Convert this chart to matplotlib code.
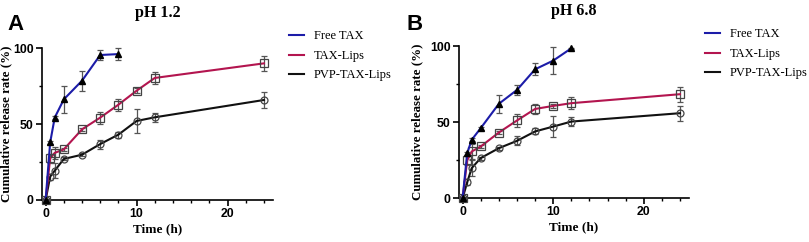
import matplotlib
matplotlib.use("Agg")
import matplotlib.pyplot as plt
from matplotlib.lines import Line2D
from matplotlib.ticker import MultipleLocator

# pH 1.2
t_free_a = [0, 0.5, 1, 2, 4, 6, 8]
free_a = [0, 37.9, 54.2, 66.2, 78.5, 95.4, 96.0]
free_a_err = [0, 1.0, 1.0, 8.8, 6.6, 3.0, 4.0]

t_lips = [0, 0.5, 1, 2, 4, 6, 8, 10, 12, 24]
lips_a = [0, 27.4, 31.0, 33.3, 46.5, 54.2, 62.7, 71.9, 80.3, 89.9]
lips_a_err = [0, 3.0, 4.0, 1.0, 1.0, 4.0, 4.0, 1.5, 4.0, 5.0]
pvp_a = [0, 15.4, 19.3, 27.0, 29.8, 36.8, 43.0, 52.0, 54.4, 65.8]
pvp_a_err = [0, 2.0, 5.0, 1.0, 1.0, 3.0, 2.0, 8.0, 3.0, 5.0]

# pH 6.8
t_free_b = [0, 0.5, 1, 2, 4, 6, 8, 10, 12]
free_b = [0, 29.5, 38.3, 46.0, 62.0, 71.1, 84.7, 90.4, 98.5]
free_b_err = [0, 1.0, 1.0, 1.0, 6.0, 3.0, 4.0, 9.0, 0.5]
lips_b = [0, 24.7, 30.6, 33.9, 43.1, 51.0, 58.6, 60.6, 62.4, 68.3]
lips_b_err = [0, 3.0, 5.0, 1.0, 1.0, 4.0, 3.0, 1.5, 4.0, 5.0]
pvp_b = [0, 10.3, 19.7, 26.3, 32.8, 37.6, 43.8, 47.0, 50.3, 55.8]
pvp_b_err = [0, 2.0, 5.0, 1.0, 1.0, 3.0, 2.0, 7.0, 3.0, 5.0]

labels = ["Free TAX", "TAX-Lips", "PVP-TAX-Lips"]
colors = ["#1c1ca8", "#b3154f", "#111111"]

serif = "Liberation Serif"
sans = "Liberation Sans"

fig = plt.figure(figsize=(8.09, 2.42), dpi=100)
axA = fig.add_axes([0.0519, 0.1736, 0.2856, 0.628])
axB = fig.add_axes([0.5674, 0.1818, 0.2843, 0.628])


def draw(ax, tf, free, free_err, lips, lips_err, pvp, pvp_err, title, ylab_x):
    ax.errorbar(t_lips, pvp, yerr=pvp_err, color=colors[2], lw=1.5,
                marker="o", ms=5, mfc="none", mec="#444444", mew=0.9,
                ecolor="#555555", elinewidth=0.9, capsize=2.5, capthick=0.9,
                clip_on=False, zorder=3)
    ax.errorbar(t_lips, lips, yerr=lips_err, color=colors[1], lw=1.5,
                marker="s", ms=5.5, mfc="none", mec="#444444", mew=0.9,
                ecolor="#555555", elinewidth=0.9, capsize=2.5, capthick=0.9,
                clip_on=False, zorder=4)
    ax.errorbar(tf, free, yerr=free_err, color=colors[0], lw=1.5,
                marker="^", ms=4, mfc="black", mec="black",
                ecolor="#555555", elinewidth=0.9, capsize=2.5, capthick=0.9,
                clip_on=False, zorder=5)
    ax.set_xlim(-0.4, 25)
    ax.set_ylim(0, 100)
    ax.xaxis.set_major_locator(MultipleLocator(10))
    ax.xaxis.set_minor_locator(MultipleLocator(2))
    ax.yaxis.set_major_locator(MultipleLocator(50))
    ax.yaxis.set_minor_locator(MultipleLocator(25))
    for s in ["top", "right"]:
        ax.spines[s].set_visible(False)
    for s in ["left", "bottom"]:
        ax.spines[s].set_linewidth(1.2)
    ax.tick_params(which="major", length=4, width=1.2, direction="out", pad=2)
    ax.tick_params(which="minor", length=2.5, width=1.0, direction="out")
    for lab in ax.get_xticklabels() + ax.get_yticklabels():
        lab.set_fontfamily(sans)
        lab.set_fontweight("bold")
        lab.set_fontsize(8.8)
    ax.set_xlabel("Time (h)", fontfamily=serif, fontweight="bold", fontsize=9.5, labelpad=2)
    ax.set_ylabel("Cumulative release rate (%)", fontfamily=serif, fontweight="bold",
                  fontsize=9.3)
    ax.yaxis.set_label_coords(ylab_x, 0.5)
    ax.set_title(title, fontfamily=serif, fontweight="bold", fontsize=11.5, pad=22)
    handles = [Line2D([], [], color=c, lw=1.5) for c in colors]
    ax.legend(handles, labels, loc="upper left", bbox_to_anchor=(1.02, 1.19),
              frameon=False, handlelength=1.2, handletextpad=0.8, labelspacing=0.6,
              prop={"family": serif, "size": 9})


draw(axA, t_free_a, free_a, free_a_err, lips_a, lips_a_err, pvp_a, pvp_a_err, "pH 1.2", -0.128)
draw(axB, t_free_b, free_b, free_b_err, lips_b, lips_b_err, pvp_b, pvp_b_err, "pH 6.8", -0.155)

fig.text(0.009, 0.876, "A", fontfamily=sans, fontweight="bold", fontsize=16, va="baseline")
fig.text(0.503, 0.876, "B", fontfamily=sans, fontweight="bold", fontsize=16, va="baseline")

fig.savefig("out.png", dpi=100)
